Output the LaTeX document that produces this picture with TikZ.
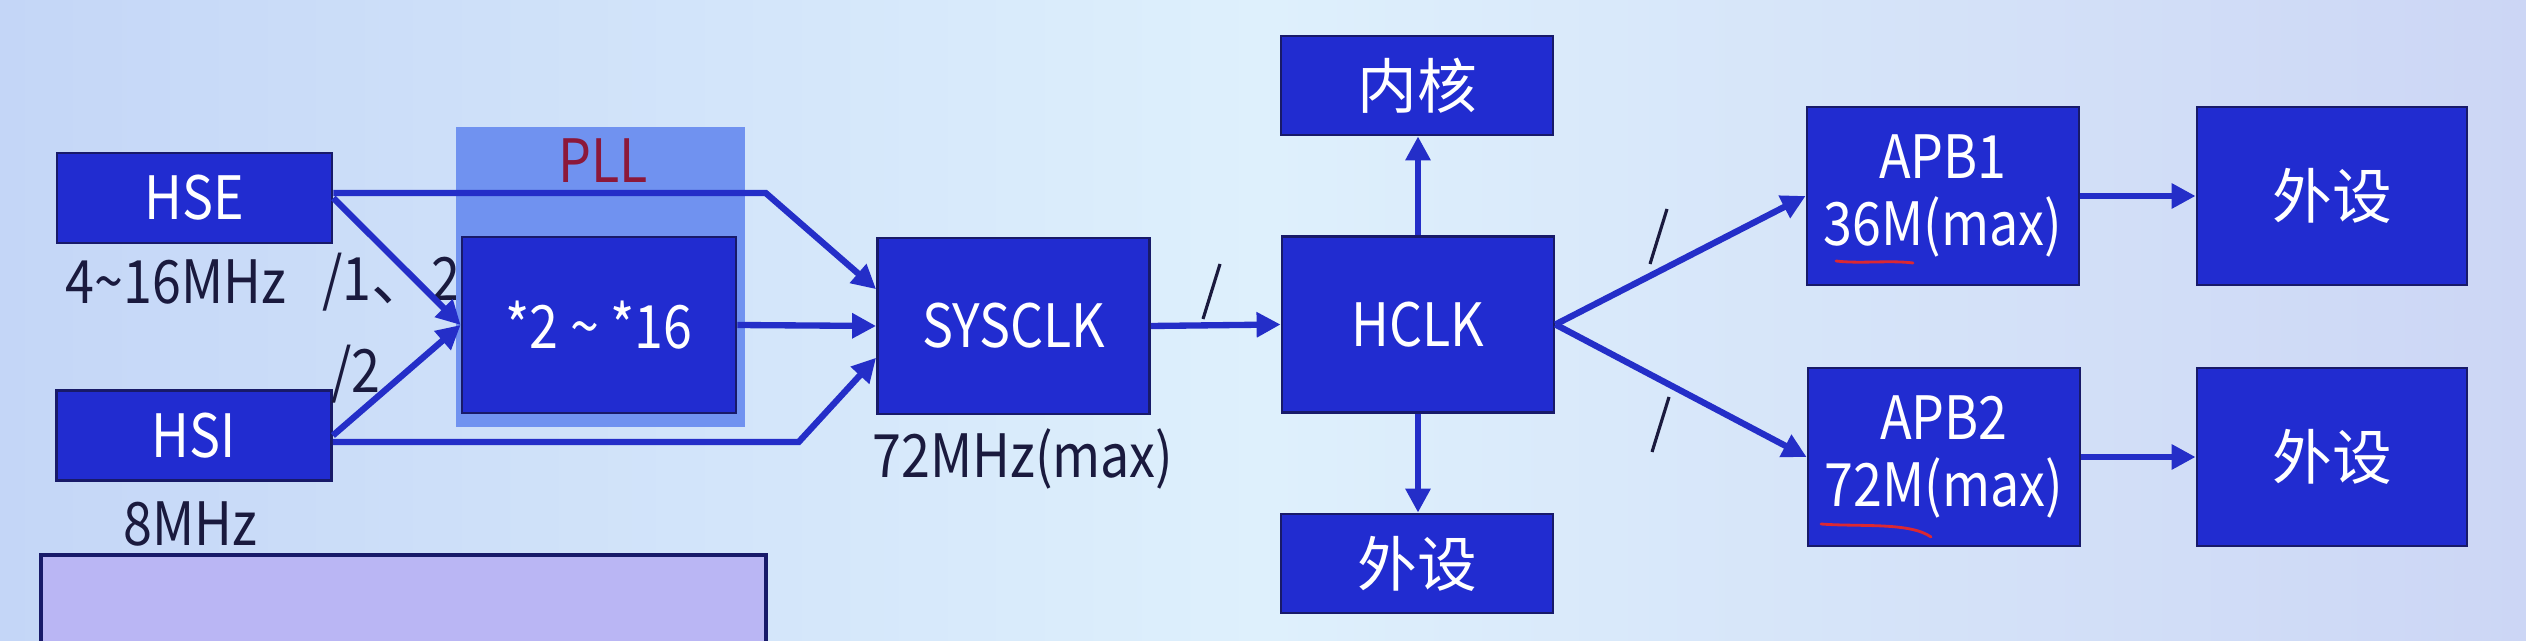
\documentclass[tikz,border=0pt]{standalone}
\usepackage{fontspec}
\setmainfont[FakeStretch=0.87]{Noto Sans CJK SC}
\newfontfamily\cjk{Noto Sans CJK SC}
\usetikzlibrary{arrows.meta,calc}
\definecolor{bgleft}{RGB}{196,214,247}
\definecolor{bgmid}{RGB}{222,240,252}
\definecolor{bgright}{RGB}{204,214,245}
\definecolor{boxblue}{RGB}{33,44,208}
\definecolor{boxedge}{RGB}{24,26,105}
\definecolor{wireblue}{RGB}{36,46,200}
\definecolor{pllblue}{RGB}{112,146,240}
\definecolor{pllred}{RGB}{140,24,58}
\definecolor{labtext}{RGB}{26,26,62}
\definecolor{lavender}{RGB}{186,182,244}
\definecolor{penred}{RGB}{220,40,50}
\begin{document}
\begin{tikzpicture}[
  blk/.style={draw=boxedge, line width=0.8pt, fill=boxblue, text=white, minimum width=2.72cm, minimum height=1.76cm, inner sep=0pt, align=center, font=\fontsize{17}{19}\selectfont},
  slim/.style={blk, minimum width=2.75cm, minimum height=0.9cm},
  lab/.style={text=labtext, inner sep=0pt, font=\fontsize{17}{19}\selectfont},
  wire/.style={draw=wireblue, line width=1.8pt, -{Triangle[length=0.24cm,width=0.24cm]}},
  tick/.style={draw=labtext, line width=0.9pt},
  pen/.style={draw=penred, line width=0.8pt, line cap=round}
]
\useasboundingbox (0,0) rectangle (25.26,6.41);
\shade[left color=bgleft, right color=bgright, middle color=bgmid] (0,0) rectangle (25.26,6.41);
\fill[lavender] (0.41,0) rectangle (7.66,0.86);
\draw[boxedge, line width=1pt] (0.41,0) |- (7.66,0.86) -- (7.66,0);
\node[slim] (hse) at (1.945,4.43) {HSE};
\node[slim] (hsi) at (1.94,2.055) {HSI};
\node[lab] (hsef) at (1.76,3.59) {4\textasciitilde16MHz};
\node[lab] (hsif) at (1.90,1.17) {8MHz};
\node[lab] (div12) at (3.91,3.59) {/1{\cjk 、}2};
\node[lab] (div2) at (3.56,2.67) {/2};
\node[fill=pllblue, minimum width=2.89cm, minimum height=3.0cm, inner sep=0pt] (pllbox) at (6.005,3.64) {};
\node[lab, text=pllred] (plltxt) at (6.03,4.80) {PLL};
\node[blk, minimum width=2.74cm] (pll) at (5.99,3.16) {*2 \textasciitilde{} *16};
\node[blk] (sys) at (10.135,3.15) {SYSCLK};
\node[lab] (sysf) at (10.23,1.82) {72MHz(max)};
\node[blk] (hclk) at (14.18,3.165) {HCLK};
\node[blk, minimum height=0.99cm] (core) at (14.17,5.555) {\cjk 内核};
\node[blk, minimum height=0.99cm] (perA) at (14.17,0.775) {\cjk 外设};
\node[blk, minimum height=1.78cm] (apb1) at (19.43,4.45) {APB1\\36M(max)};
\node[blk, minimum height=1.78cm] (apb2) at (19.44,1.84) {APB2\\72M(max)};
\foreach \n/\y in {perB/4.45,perC/1.84} {
  \node[blk, minimum width=2.7cm, minimum height=1.78cm] (\n) at (23.32,\y) {\cjk 外设};
}
\draw[wire] (hse.east) -- (pll.west);
\draw[wire] (hsi.east) -- (pll.west);
\draw[wire] ($(hse.east)+(0,0.05)$) -- ($(hse.east -| pllbox.east)+(0.2,0.05)$) -- (sys.165);
\draw[wire] ($(hsi.east)+(0,-0.065)$) -- ($(hsi.east -| pllbox.east)+(0.53,-0.065)$) -- (sys.193);
\draw[wire] (pll.east) -- (sys.west);
\draw[wire] (sys.east) -- (hclk.west);
\draw[wire] (hclk.north) -- (hclk.north |- core.south);
\draw[wire] (hclk.south) -- (hclk.south |- perA.north);
\draw[wire] (hclk.east) -- (apb1.west);
\draw[wire] (hclk.east) -- (apb2.west);
\draw[wire] (apb1.east) -- (perB.west);
\draw[wire] (apb2.east) -- (perC.west);
\foreach \x/\y in {12.03/3.22,16.50/3.77,16.52/1.89} {
  \draw[tick] (\x,\y) -- ++(0.17,0.55);
}
\draw[pen] (18.36,3.80) .. controls (18.6,3.77) and (18.9,3.81) .. (19.13,3.78);
\draw[pen] (18.21,1.17) .. controls (18.6,1.14) and (19.1,1.19) .. (19.31,1.04);
\end{tikzpicture}
\end{document}
